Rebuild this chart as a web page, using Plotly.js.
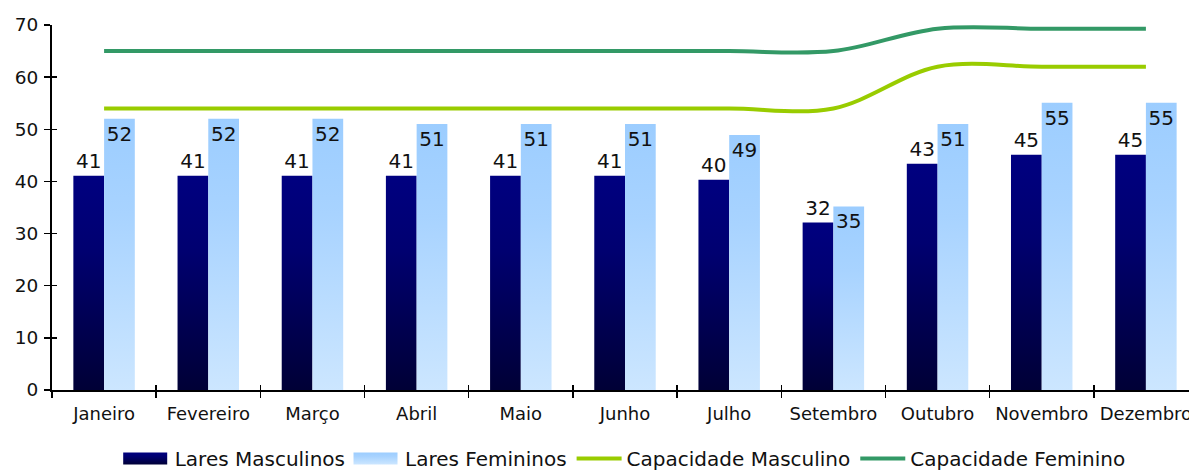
<!DOCTYPE html>
<html><head><meta charset="utf-8">
<script src="https://cdn.plot.ly/plotly-3.0.1.min.js"></script>
<style>html,body{margin:0;padding:0;overflow:hidden;background:#fff}#chart{width:1200px;height:472px}</style>
</head><body><div id="chart"></div>
<script>
const categories = ['Janeiro','Fevereiro','Março','Abril','Maio','Junho','Julho','Setembro','Outubro','Novembro','Dezembro'];
const laresMasculinos = [41.1,41.1,41.1,41.1,41.1,41.1,40.3,32.1,43.4,45.1,45.1];
const laresFemininos  = [52,52,52,51,51,51,48.9,35.2,51,55.1,55.1];
const capacidadeMasculino = [54,54,54,54,54,54,54,54,62,62,62];
const capacidadeFeminino  = [65,65,65,65,65,65,65,65,69.3,69.3,69.3];
const yTicks = [0,10,20,30,40,50,60,70];

const FONT = 'DejaVu Sans, Verdana, sans-serif';
const txt = '#111';

const data = [
  {type:'bar', name:'Lares Masculinos', x:categories, y:laresMasculinos,
   marker:{color:'#000060', line:{width:0}},
   texttemplate:'%{y:.0f}', textposition:'outside', textangle:0, cliponaxis:false,
   textfont:{family:FONT,size:20,color:txt}, constraintext:'none', hoverinfo:'skip'},
  {type:'bar', name:'Lares Femininos', x:categories, y:laresFemininos,
   marker:{color:'#B0D8FF', line:{width:0}},
   texttemplate:'%{y:.0f}', textposition:'inside', insidetextanchor:'end', textangle:0,
   textfont:{family:FONT,size:20,color:txt}, constraintext:'none', hoverinfo:'skip'},
  {type:'scatter', mode:'lines', name:'Capacidade Masculino', x:categories, y:capacidadeMasculino,
   line:{color:'#99CC00', width:4, shape:'spline', smoothing:1}, hoverinfo:'skip'},
  {type:'scatter', mode:'lines', name:'Capacidade Feminino', x:categories, y:capacidadeFeminino,
   line:{color:'#339966', width:4, shape:'spline', smoothing:1}, hoverinfo:'skip'},
  {type:'scatter', mode:'lines', x:categories, y:categories.map(()=>null), xaxis:'x2', yaxis:'y2',
   showlegend:false, hoverinfo:'skip'}
];

const layout = {
  width:1200, height:472,
  margin:{l:52, r:2, t:25, b:81.5, autoexpand:false},
  paper_bgcolor:'#fff', plot_bgcolor:'#fff',
  barmode:'group', bargap:0.41, bargroupgap:0,
  font:{family:FONT, color:txt},
  showlegend:true,
  legend:{orientation:'h', x:0.521, xref:'container', xanchor:'center', y:0.07, yref:'container', yanchor:'top',
    font:{family:FONT,size:20,color:txt}, itemwidth:45, traceorder:'normal',
    bgcolor:'rgba(0,0,0,0)'},
  xaxis:{type:'category', range:[-0.5,10.5], showline:true, linecolor:'#000', linewidth:2,
    ticks:'outside', tickson:'boundaries', ticklen:6, tickwidth:1.5, tickcolor:'#000', automargin:false,
    ticklabelstandoff:6,
    showgrid:false, zeroline:false, tickfont:{family:FONT,size:18,color:txt}, fixedrange:true},
  yaxis:{range:[0,70], tickvals:yTicks, showline:true, linecolor:'#000', linewidth:2, automargin:false,
    ticks:'outside', ticklen:6, tickwidth:1.5, tickcolor:'#000', showgrid:false, zeroline:false,
    ticklabelstandoff:2,
    tickfont:{family:FONT,size:18.5,color:txt}, fixedrange:true},
  xaxis2:{type:'category', overlaying:'x', anchor:'y2', side:'bottom', range:[-0.5,10.5],
    categoryarray:categories, categoryorder:'array', automargin:false,
    showline:false, ticks:'inside', tickson:'boundaries', ticklen:5, tickwidth:1.5, tickcolor:'#000',
    showticklabels:false, showgrid:false, zeroline:false},
  yaxis2:{overlaying:'y', anchor:'x2', side:'left', range:[0,70], tickvals:yTicks, automargin:false,
    showline:false, ticks:'inside', ticklen:5, tickwidth:1.5, tickcolor:'#000',
    showticklabels:false, showgrid:false, zeroline:false}
};

function addGradient(defs, id, stops){
  const ns='http://www.w3.org/2000/svg';
  const g=document.createElementNS(ns,'linearGradient');
  g.setAttribute('id',id); g.setAttribute('x1','0'); g.setAttribute('y1','0');
  g.setAttribute('x2','0'); g.setAttribute('y2','1');
  stops.forEach(s=>{const st=document.createElementNS(ns,'stop');
    st.setAttribute('offset',s[0]); st.setAttribute('stop-color',s[1]); g.appendChild(st);});
  defs.appendChild(g);
}

Plotly.newPlot('chart', data, layout, {staticPlot:true, displayModeBar:false}).then(gd=>{
  const svg=gd.querySelector('.main-svg');
  let defs=svg.querySelector('defs');
  addGradient(defs,'gradMasc',[[0,'#000080'],[0.35,'#000070'],[1,'#000036']]);
  addGradient(defs,'gradFem',[[0,'#9CCDFF'],[0.35,'#A8D3FF'],[1,'#CCE6FF']]);
  const ids=['gradMasc','gradFem'];
  gd.querySelectorAll('.barlayer .trace').forEach((t,i)=>{
    t.querySelectorAll('.point path').forEach(p=>{p.style.fill='url(#'+ids[i]+')';});
  });
  const items=gd.querySelectorAll('.legend .traces');
  items.forEach((it,i)=>{
    if(i<2){
      const p=it.querySelector('.legendpoints path');
      if(p){p.setAttribute('d','M-24,6H20V-6H-24Z'); p.style.fill='url(#'+ids[i]+')'; p.style.stroke='none';}
    }
  });
});
</script></body></html>
